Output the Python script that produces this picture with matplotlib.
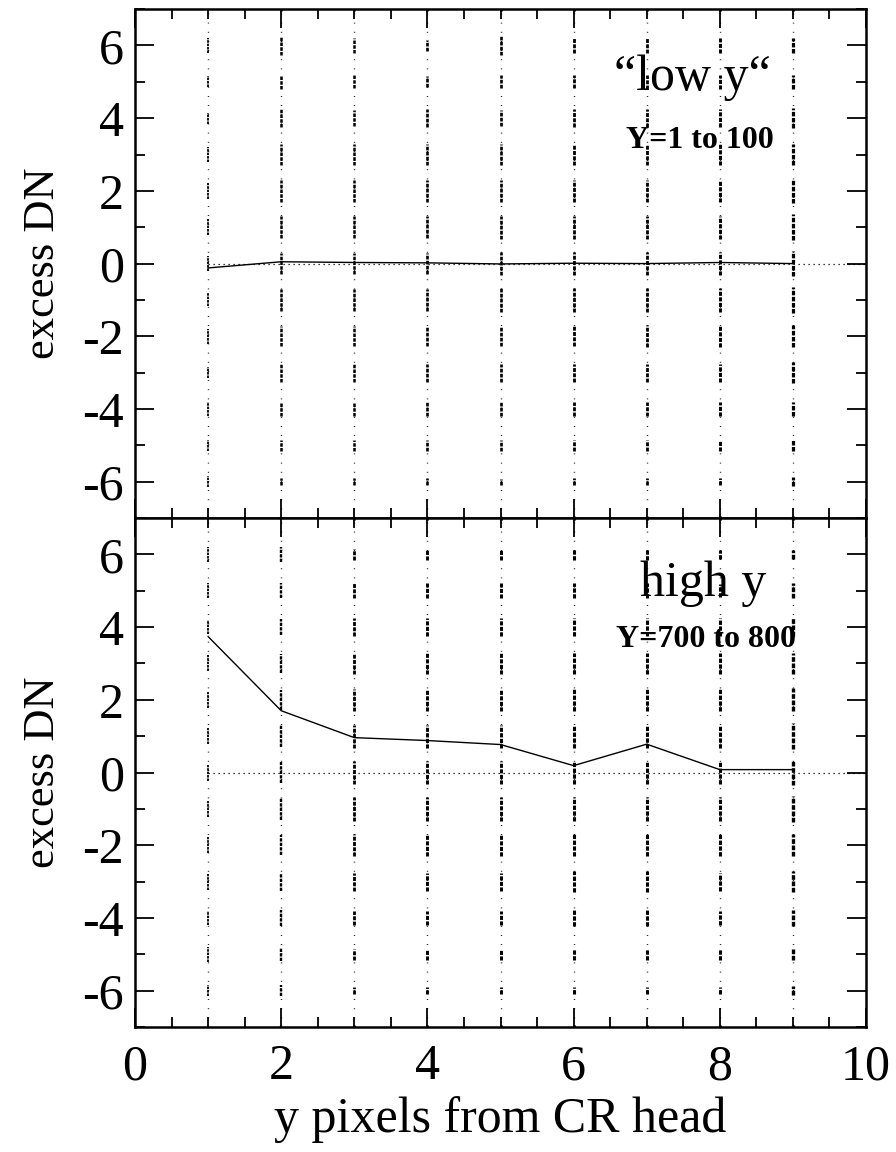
import matplotlib
matplotlib.use("Agg")
import matplotlib.pyplot as plt
from matplotlib.ticker import MultipleLocator

plt.rcParams['font.family'] = ['Liberation Serif', 'DejaVu Serif']
plt.rcParams['axes.unicode_minus'] = False

# ---- data ----
x_pos = [1, 2, 3, 4, 5, 6, 7, 8, 9]
low_mean = [-0.12, 0.05, 0.03, 0.02, -0.01, 0.01, 0.0, 0.03, 0.0]
high_mean = [3.74, 1.70, 0.96, 0.88, 0.77, 0.19, 0.78, 0.08, 0.08]

# DN levels at which the individual pixel values cluster
levels = [-7, -6, -5, -4, -3, -2, -1, 0, 1, 2, 3, 4, 5, 6, 7]

# half-length (DN) of the dot cluster seen at each level, per column
low_half = [
    [0.05, 0.15, 0.15, 0.18, 0.15, 0.20, 0.18, 0.20, 0.22, 0.22, 0.20, 0.15, 0.15, 0.20, 0.05],
    [0.05, 0.10, 0.15, 0.20, 0.25, 0.28, 0.30, 0.30, 0.30, 0.30, 0.28, 0.25, 0.20, 0.25, 0.05],
    [0.05, 0.10, 0.15, 0.20, 0.25, 0.28, 0.30, 0.30, 0.30, 0.30, 0.28, 0.22, 0.18, 0.20, 0.05],
    [0.05, 0.10, 0.15, 0.20, 0.25, 0.28, 0.30, 0.30, 0.30, 0.30, 0.28, 0.25, 0.15, 0.15, 0.05],
    [0.05, 0.08, 0.15, 0.18, 0.25, 0.28, 0.32, 0.32, 0.32, 0.30, 0.28, 0.22, 0.18, 0.25, 0.05],
    [0.05, 0.10, 0.15, 0.20, 0.25, 0.28, 0.32, 0.32, 0.32, 0.30, 0.28, 0.25, 0.18, 0.20, 0.05],
    [0.05, 0.10, 0.15, 0.20, 0.25, 0.30, 0.32, 0.32, 0.32, 0.30, 0.28, 0.25, 0.20, 0.20, 0.05],
    [0.05, 0.10, 0.15, 0.20, 0.25, 0.30, 0.32, 0.32, 0.32, 0.30, 0.28, 0.25, 0.20, 0.20, 0.05],
    [0.05, 0.12, 0.15, 0.20, 0.28, 0.30, 0.35, 0.35, 0.35, 0.32, 0.30, 0.28, 0.20, 0.20, 0.05],
]
high_half = [
    [0.05, 0.15, 0.20, 0.20, 0.22, 0.22, 0.22, 0.22, 0.22, 0.22, 0.22, 0.20, 0.20, 0.20, 0.05],
    [0.05, 0.15, 0.18, 0.22, 0.25, 0.28, 0.30, 0.30, 0.30, 0.28, 0.25, 0.22, 0.20, 0.20, 0.05],
    [0.05, 0.10, 0.15, 0.20, 0.25, 0.30, 0.32, 0.32, 0.32, 0.30, 0.28, 0.25, 0.20, 0.15, 0.05],
    [0.05, 0.10, 0.15, 0.20, 0.25, 0.30, 0.32, 0.32, 0.32, 0.30, 0.28, 0.25, 0.20, 0.15, 0.05],
    [0.05, 0.10, 0.15, 0.20, 0.25, 0.30, 0.32, 0.32, 0.32, 0.30, 0.28, 0.25, 0.20, 0.15, 0.05],
    [0.05, 0.10, 0.15, 0.22, 0.28, 0.30, 0.32, 0.32, 0.32, 0.30, 0.28, 0.25, 0.20, 0.15, 0.05],
    [0.05, 0.10, 0.15, 0.22, 0.28, 0.30, 0.32, 0.32, 0.32, 0.30, 0.28, 0.25, 0.20, 0.15, 0.05],
    [0.05, 0.10, 0.15, 0.20, 0.25, 0.30, 0.32, 0.32, 0.32, 0.30, 0.28, 0.25, 0.18, 0.12, 0.05],
    [0.05, 0.12, 0.15, 0.22, 0.28, 0.30, 0.35, 0.35, 0.35, 0.32, 0.30, 0.25, 0.20, 0.12, 0.05],
]
# apparent darkness of each column of dots
low_weight = [1.3, 1.8, 1.8, 1.9, 1.9, 2.0, 2.0, 2.1, 2.3]
high_weight = [1.3, 1.7, 2.0, 2.1, 2.1, 2.2, 2.2, 2.2, 2.4]

x_ticks = [0, 2, 4, 6, 8, 10]
y_ticks = [-6, -4, -2, 0, 2, 4, 6]

FS = 36

fig = plt.figure(figsize=(8.96, 11.52), dpi=100)
ax1 = fig.add_axes([0.1507, 0.5503, 0.8158, 0.4418])
ax2 = fig.add_axes([0.1507, 0.1085, 0.8158, 0.4418])


def draw_panel(ax, means, halves, weights):
    for xi, hs, w in zip(x_pos, halves, weights):
        ax.vlines(xi, -7, 7, colors='k', linewidth=1.0,
                  linestyles=[(0, (0.6, 6.0))])
        for lv, h in zip(levels, hs):
            ax.vlines(xi, lv - h, lv + h, colors='k', linewidth=w,
                      linestyles=[(0, (1.4, 0.5))])
    ax.plot([1, 10], [0, 0], color='k', lw=0.9, ls=(0, (1, 3)))
    ax.plot(x_pos, means, color='k', lw=1.0)
    ax.set_xlim(0, 10)
    ax.set_ylim(-7, 7)
    ax.set_xticks(x_ticks)
    ax.set_yticks(y_ticks)
    ax.xaxis.set_minor_locator(MultipleLocator(0.5))
    ax.yaxis.set_minor_locator(MultipleLocator(1))
    ax.tick_params(which='both', direction='in', top=True, right=True,
                   width=1.3, labelsize=FS)
    ax.tick_params(axis='y', pad=8)
    ax.tick_params(axis='x', pad=12)
    ax.tick_params(which='major', length=14)
    ax.tick_params(which='minor', length=7)
    for s in ax.spines.values():
        s.set_linewidth(1.8)
    ax.set_ylabel('excess DN', fontsize=32, labelpad=14)


draw_panel(ax1, low_mean, low_half, low_weight)
draw_panel(ax2, high_mean, high_half, high_weight)
ax1.tick_params(labelbottom=False)
ax2.set_xlabel('y pixels from CR head', fontsize=FS, labelpad=4)

ax1.text(7.63, 5.1, '\u201clow y\u201c', fontsize=FS, ha='center', va='center')
ax1.text(7.73, 3.39, 'Y=1 to 100', fontsize=23, fontweight='bold',
         ha='center', va='center')
ax2.text(7.77, 5.2, 'high y', fontsize=FS, ha='center', va='center')
ax2.text(7.81, 3.66, 'Y=700 to 800', fontsize=23, fontweight='bold',
         ha='center', va='center')

fig.savefig('out.png', dpi=100)
